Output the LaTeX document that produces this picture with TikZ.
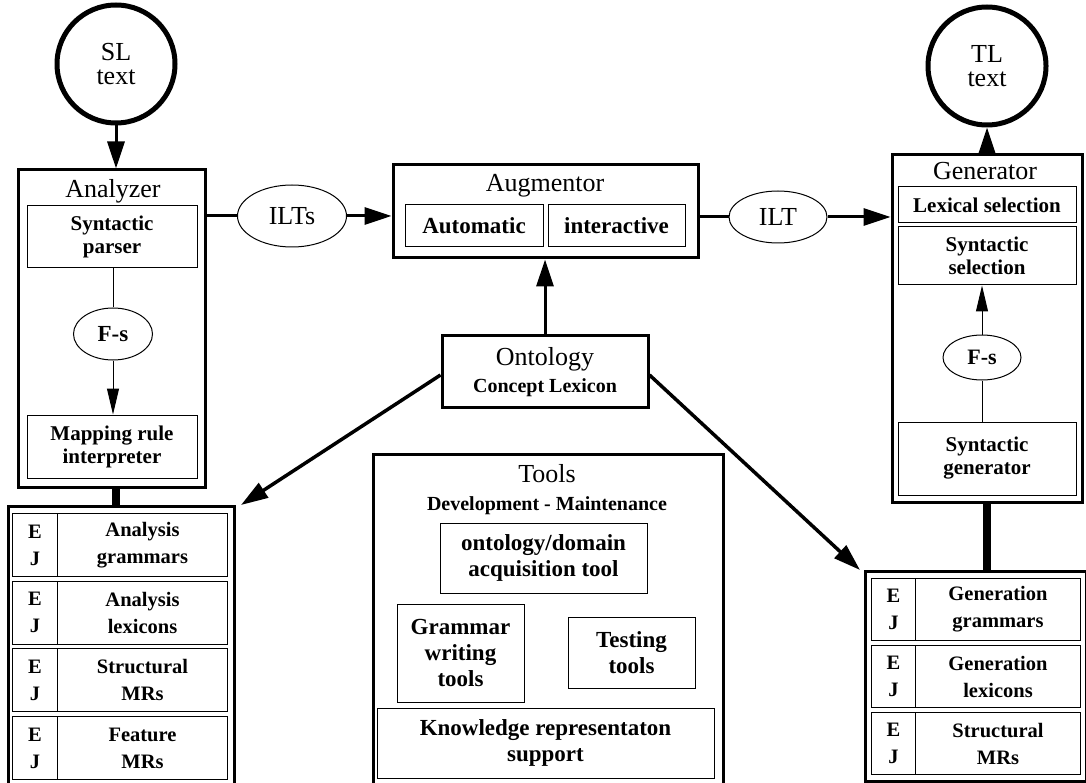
\documentclass[tikz,border=0pt]{standalone}
\usepackage{fontspec}
\setmainfont{Liberation Serif}
\usetikzlibrary{arrows.meta,shapes.geometric}

\begin{document}
\begin{tikzpicture}[x=1pt,y=-1pt,
  box/.style={draw, line width=3pt, inner sep=0pt},
  part/.style={draw, line width=1pt, inner sep=0pt, align=center, font=\fontsize{21}{23}\selectfont\bfseries},
  bigpart/.style={part, font=\fontsize{23}{26}\selectfont\bfseries},
  rowpart/.style={part, font=\fontsize{20.5}{27}\selectfont\bfseries},
  title/.style={inner sep=0pt, align=center, font=\fontsize{26}{26}\selectfont},
  subtitle/.style={inner sep=0pt, font=\fontsize{20}{22}\selectfont\bfseries},
  oval/.style={draw, ellipse, line width=1pt, inner sep=0pt, font=\fontsize{26}{26}\selectfont},
  txtcirc/.style={draw, circle, line width=5pt, minimum size=118pt, inner sep=0pt, align=center, font=\fontsize{26}{24}\selectfont},
  link/.style={line width=3pt},
  bigtip/.style={line width=3pt, -{Triangle[length=27pt,width=17pt]}},
  thintip/.style={line width=1pt, -{Triangle[length=26pt,width=12pt]}},
  bar/.style={line width=8pt}]

  \useasboundingbox (0,0) rectangle (1086,783);
  \clip (0,0) rectangle (1086,783);

  % input and output text
  \node[txtcirc] (sl) at (116,64) {SL\\text};
  \node[txtcirc] (tl) at (987,66) {TL\\text};

  % analyzer
  \node[box, minimum width=187pt, minimum height=317pt] (analyzer) at (111.5,328.5) {};
  \node[title, anchor=base] (analyzertitle) at (113,198) {Analyzer};
  \node[part, minimum width=170pt, minimum height=62pt] (parser) at (112,237) {Syntactic\\parser};
  \node[oval, minimum width=79pt, minimum height=52pt, font=\fontsize{23}{23}\selectfont\bfseries] (fsa) at (113,334) {F-s};
  \node[part, minimum width=170pt, minimum height=63pt] (maprule) at (112,446.5) {Mapping rule\\interpreter};

  % augmentor
  \node[oval, minimum width=109pt, minimum height=62pt] (ilts) at (292,216) {ILTs};
  \node[box, minimum width=305pt, minimum height=93pt] (augmentor) at (545.5,211.5) {};
  \node[title, anchor=base] (augmentortitle) at (545,192) {Augmentor};
  \node[bigpart, minimum width=138pt, minimum height=42pt] (automatic) at (474,226) {Automatic};
  \node[bigpart, minimum width=137pt, minimum height=42pt] (interactive) at (616.5,226) {interactive};
  \node[oval, minimum width=98pt, minimum height=52pt] (ilt) at (778,217) {ILT};

  % generator
  \node[box, minimum width=190pt, minimum height=347pt] (generator) at (987,328.5) {};
  \node[title, anchor=base] (generatortitle) at (985,180) {Generator};
  \node[part, minimum width=178pt, minimum height=36pt] (lexsel) at (987,205) {Lexical selection};
  \node[part, minimum width=178pt, minimum height=58pt] (synsel) at (987,256) {Syntactic\\selection};
  \node[oval, minimum width=78pt, minimum height=45pt, font=\fontsize{22}{22}\selectfont\bfseries] (fsg) at (982,357.5) {F-s};
  \node[part, minimum width=178pt, minimum height=73pt] (syngen) at (987,458.5) {Syntactic\\generator};

  % ontology
  \node[box, minimum width=206pt, minimum height=72pt] (ontology) at (545,371) {};
  \node[title, anchor=base] (ontologytitle) at (545,365) {Ontology};
  \node[subtitle, anchor=base] (ontologysub) at (545,392) {Concept Lexicon};

  % tools
  \node[box, minimum width=350pt, minimum height=340pt, anchor=north west] (tools) at (372,453) {};
  \node[title, anchor=base] (toolstitle) at (547,482) {Tools};
  \node[subtitle, anchor=base] (toolssub) at (547,510) {Development - Maintenance};
  \node[bigpart, minimum width=207pt, minimum height=70pt] (acquisition) at (543.5,558) {ontology/domain\\acquisition tool};
  \node[bigpart, minimum width=127pt, minimum height=98pt] (grammar) at (460.5,653) {Grammar\\writing\\tools};
  \node[bigpart, minimum width=127pt, minimum height=71pt] (testing) at (631.5,652.5) {Testing\\tools};
  \node[bigpart, minimum width=337pt, minimum height=70pt] (knowledge) at (545.5,743) {Knowledge representaton\\support};

  % analysis resources
  \node[box, minimum width=226pt, minimum height=300pt, anchor=north west] (lefttab) at (7,505) {};
  \foreach \res [count=\i from 0] in {{Analysis\\grammars},{Analysis\\lexicons},{Structural\\MRs},{Feature\\MRs}} {
    \node[rowpart, minimum width=45pt, minimum height=63pt, anchor=north west] (lej\i) at (12,513+67.7*\i) {E\\J};
    \node[rowpart, minimum width=170pt, minimum height=63pt, anchor=north west] (lres\i) at (57,513+67.7*\i) {\res};
  }

  % generation resources
  \node[box, minimum width=221pt, minimum height=210pt, anchor=north west] (righttab) at (864,570) {};
  \foreach \res [count=\i from 0] in {{Generation\\grammars},{Generation\\lexicons},{Structural\\MRs}} {
    \node[rowpart, minimum width=44pt, minimum height=62pt, anchor=north west] (rej\i) at (871,578+67*\i) {E\\J};
    \node[rowpart, minimum width=165pt, minimum height=62pt, anchor=north west] (rres\i) at (915,578+67*\i) {\res};
  }

  % connectors
  \draw[bigtip] (sl.south) -- (sl.south |- analyzer.north);
  \draw[line width=1pt] (parser.south -| fsa) -- (fsa.north);
  \draw[thintip] (fsa.south) -- (fsa.south |- maprule.north);
  \draw[bar] (analyzer.south -| sl) -- (lefttab.north -| sl);
  \draw[link] (ilts.west -| analyzer.east) -- (ilts.west);
  \draw[bigtip] (ilts.east) -- (ilts.east -| augmentor.west);
  \draw[link] (ilt.west -| augmentor.east) -- (ilt.west);
  \draw[bigtip] (ilt.east) -- (ilt.east -| generator.west);
  \draw[bigtip] (generator.north -| tl) -- (tl.south);
  \draw[line width=1pt] (syngen.north -| fsg) -- (fsg.south);
  \draw[thintip] (fsg.north) -- (fsg.north |- synsel.south);
  \draw[bar] (generator.south -| tl) -- (righttab.north -| tl);
  \draw[bigtip] (ontology.north) -- (ontology.north |- augmentor.south);
  \draw[bigtip, line width=3.5pt] ([yshift=-4pt]ontology.west) -- ([xshift=5pt]lefttab.north east);
  \draw[bigtip, line width=3.5pt] ([yshift=-4pt]ontology.east) -- ([xshift=-4pt]righttab.north west);
\end{tikzpicture}
\end{document}
